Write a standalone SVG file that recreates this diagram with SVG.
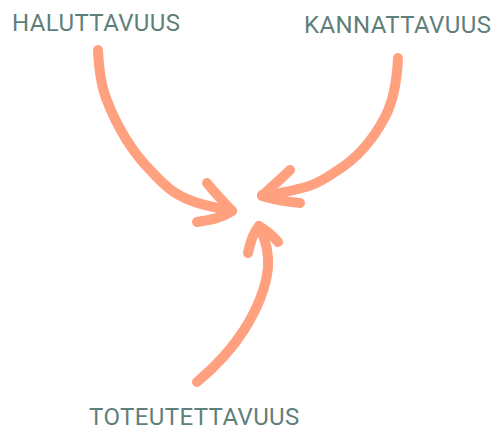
<svg xmlns="http://www.w3.org/2000/svg" width="491" height="430" viewBox="0 0 491 430">
<style>
.lbl{font-family:Roboto,"Liberation Sans",sans-serif;font-size:24px;fill:#5f7f7a;letter-spacing:0.4px;}
.arr{fill:none;stroke:#ffa07f;stroke-width:10;stroke-linecap:round;stroke-linejoin:round;}
</style>
<rect width="491" height="430" fill="#ffffff"/>
<g id="node-halu"><text class="lbl" x="12" y="31">HALUTTAVUUS</text></g>
<g id="node-kanna"><text class="lbl" x="304" y="33">KANNATTAVUUS</text></g>
<g id="node-toteu"><text class="lbl" x="89" y="425">TOTEUTETTAVUUS</text></g>
<g id="connectors">
<path class="arr" d="M98,50 C99,70 101,85 106,98 C118,130 135,155 152,172 C165,186 175,195 192,201 C205,206 220,208 232,211"/>
<path class="arr" d="M207,183 C214,192 220,198 232,211 C222,218 210,220 197,222"/>
<path class="arr" d="M398,58 C397,80 394,100 385,117 C373,140 355,160 335,172 C315,186 305,188 280,193 C272,194 266,195 262,195"/>
<path class="arr" d="M290,170 C280,180 270,188 262,196 C275,200 288,202 300,203"/>
<path class="arr" d="M197,382 C215,367 230,352 244,330 C258,308 266,286 268,268 C269,255 266,240 259,226"/>
<path class="arr" d="M248,253 C250,243 253,233 259,226 C266,230 273,236 278,242"/>
</g>
</svg>
